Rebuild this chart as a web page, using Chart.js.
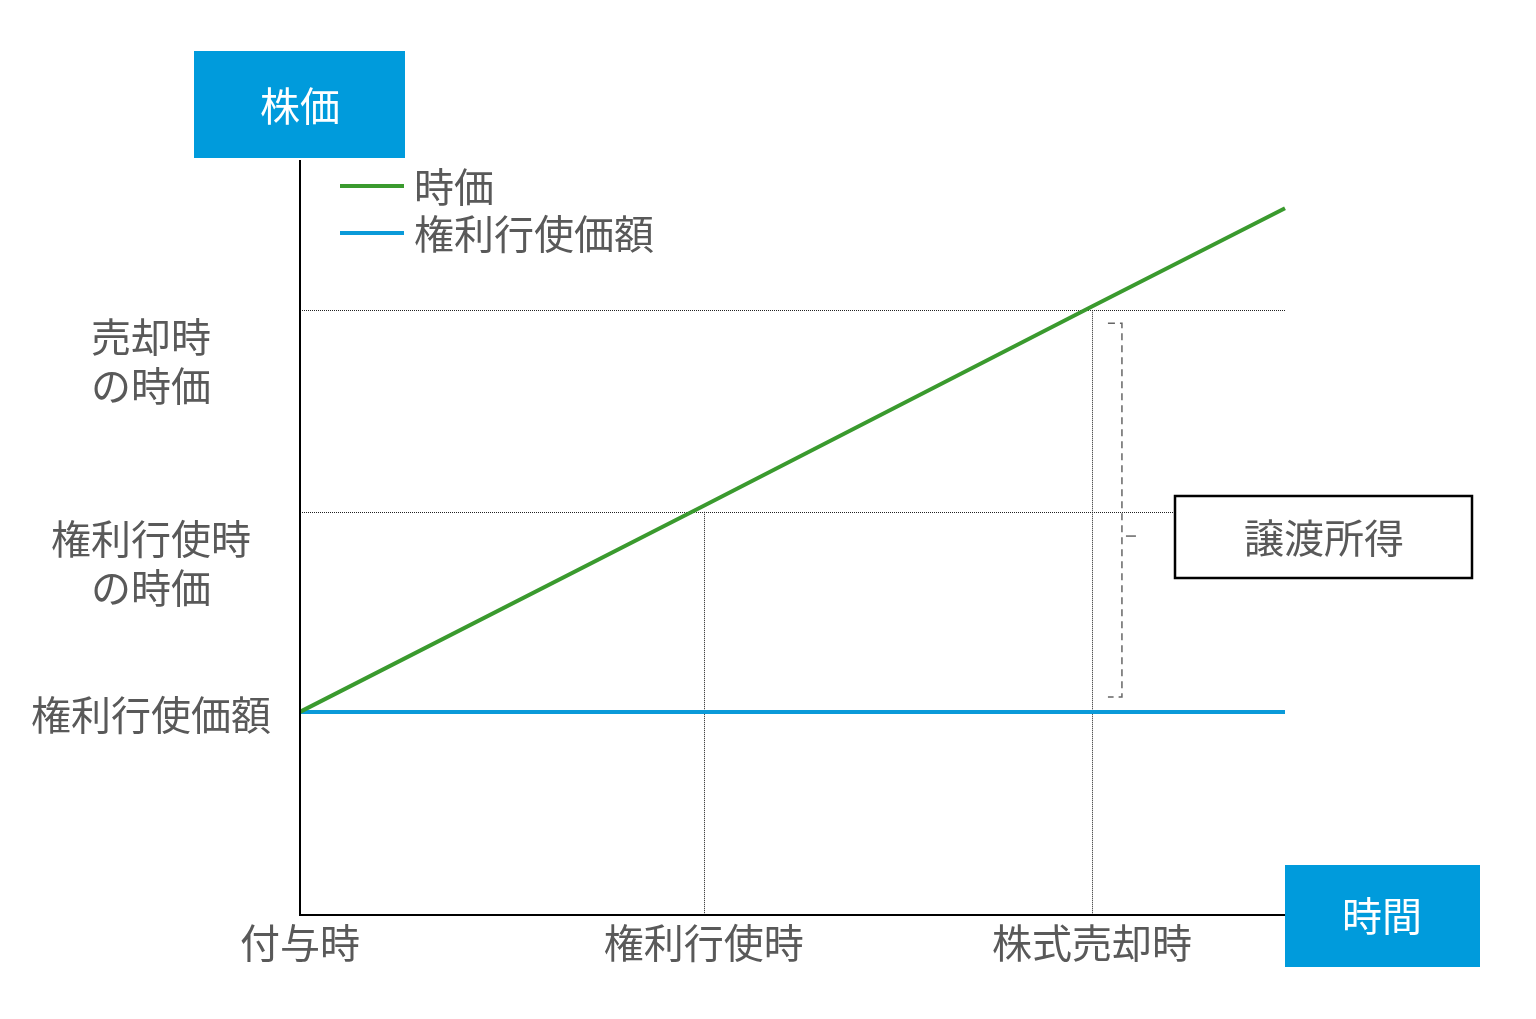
<!DOCTYPE html>
<html lang="ja">
<head>
<meta charset="utf-8">
<script src="https://cdn.jsdelivr.net/npm/chart.js@4/dist/chart.umd.min.js"></script>
<style>
  body { margin: 0; background: #fff; }
  #wrap { width: 1536px; height: 1019px; }
</style>
</head>
<body>
<div id="wrap"><canvas id="stockChart"></canvas></div>
<script>
// 時間軸の区切り
const timeLabels = ['付与時', '権利行使時', '株式売却時'];
const timePoints = [0, 41, 80.4];
// 株価の目盛り
const priceLabels = [['売却時', 'の時価'], ['権利行使時', 'の時価'], ['権利行使価額']];
const priceLevels = [80.1, 53.4, 26.9];
// 系列
const marketX = [0, 41, 80.4, 100];
const marketPrice = [26.9, 54.2, 80.6, 93.6];
const strikeX = [0, 100];
const strikePrice = [26.9, 26.9];

const FONT = '"Noto Sans CJK JP", "Noto Sans", sans-serif';
const GRAY = '#595959';
const BLUE_BOX = '#009bdc';

const overlay = {
  id: 'overlay',
  beforeDatasetsDraw(chart) {
    const { ctx, chartArea: a, scales: { x, y } } = chart;
    ctx.save();
    ctx.strokeStyle = '#222';
    ctx.lineWidth = 1;
    ctx.setLineDash([1, 1]);
    // 横の点線
    priceLevels.slice(0, 2).forEach((v, i) => {
      const py = Math.round(y.getPixelForValue(v)) + 0.5;
      ctx.beginPath();
      ctx.moveTo(a.left, py);
      ctx.lineTo(i === 0 ? a.right : 1174, py);
      ctx.stroke();
    });
    // 縦の点線
    [[timePoints[1], priceLevels[1]], [timePoints[2], priceLevels[0]]].forEach(([t, v]) => {
      const px = Math.round(x.getPixelForValue(t)) + 0.5;
      ctx.beginPath();
      ctx.moveTo(px, y.getPixelForValue(v));
      ctx.lineTo(px, a.bottom);
      ctx.stroke();
    });
    ctx.restore();
  },
  afterDatasetsDraw(chart) {
    const { ctx, chartArea: a, scales: { x, y } } = chart;
    ctx.save();

    // 軸
    ctx.strokeStyle = '#000';
    ctx.lineWidth = 2;
    ctx.setLineDash([]);
    ctx.beginPath();
    ctx.moveTo(a.left, a.top);
    ctx.lineTo(a.left, a.bottom);
    ctx.lineTo(a.right, a.bottom);
    ctx.stroke();

    // 中括弧（破線）
    const bx = x.getPixelForValue(timePoints[2]) + 30;
    const bTop = y.getPixelForValue(priceLevels[0]) + 13;
    const bBot = y.getPixelForValue(priceLevels[2]) - 15;
    const bMid = (bTop + bBot) / 2 + 26;
    ctx.strokeStyle = '#666';
    ctx.lineWidth = 1.5;
    ctx.setLineDash([7, 5]);
    ctx.beginPath();
    ctx.moveTo(bx - 14, bTop);
    ctx.lineTo(bx, bTop);
    ctx.lineTo(bx, bBot);
    ctx.lineTo(bx - 14, bBot);
    ctx.stroke();
    ctx.setLineDash([]);
    ctx.beginPath();
    ctx.moveTo(bx + 4, bMid);
    ctx.lineTo(bx + 14, bMid);
    ctx.stroke();

    // 譲渡所得の枠
    ctx.fillStyle = '#fff';
    ctx.fillRect(1175, 496, 297, 82);
    ctx.strokeStyle = '#000';
    ctx.lineWidth = 2.5;
    ctx.strokeRect(1175, 496, 297, 82);
    ctx.fillStyle = GRAY;
    ctx.font = '40px ' + FONT;
    ctx.textAlign = 'center';
    ctx.textBaseline = 'middle';
    ctx.fillText('譲渡所得', 1324, 538);

    // 軸タイトルの青い箱
    ctx.fillStyle = BLUE_BOX;
    ctx.fillRect(a.left - 106, 51, 211, 107);
    ctx.fillRect(a.right, a.bottom - 50, 195, 102);
    ctx.fillStyle = '#fff';
    ctx.fillText('株価', a.left, 106);
    ctx.fillText('時間', a.right + 97, a.bottom + 1);

    // 横軸ラベル
    ctx.fillStyle = GRAY;
    timeLabels.forEach((t, i) => {
      ctx.fillText(t, x.getPixelForValue(timePoints[i]), a.bottom + 28);
    });

    // 縦軸ラベル
    priceLabels.forEach((lines, i) => {
      const py = y.getPixelForValue(priceLevels[i]);
      const start = lines.length > 1 ? py + 27 : py + 3;
      lines.forEach((s, j) => ctx.fillText(s, 151, start + j * 49));
    });

    // 凡例
    ctx.textAlign = 'left';
    chart.data.datasets.forEach((ds, i) => {
      const ly = 186 + i * 47;
      ctx.strokeStyle = ds.borderColor;
      ctx.lineWidth = 4;
      ctx.beginPath();
      ctx.moveTo(340, ly);
      ctx.lineTo(404, ly);
      ctx.stroke();
      ctx.fillStyle = GRAY;
      ctx.fillText(ds.label, 414, ly + 1);
    });
    ctx.restore();
  }
};

const chart = new Chart(document.getElementById('stockChart'), {
  type: 'line',
  data: {
    datasets: [{
      label: '時価',
      data: marketX.map((t, i) => ({ x: t, y: marketPrice[i] })),
      borderColor: '#3a9a2e',
      borderWidth: 4,
      pointRadius: 0,
      clip: false
    }, {
      label: '権利行使価額',
      data: strikeX.map((t, i) => ({ x: t, y: strikePrice[i] })),
      borderColor: '#0a9ad9',
      borderWidth: 4,
      pointRadius: 0,
      clip: false
    }]
  },
  options: {
    responsive: true,
    maintainAspectRatio: false,
    animation: false,
    layout: { padding: { left: 300, right: 251, top: 160, bottom: 104 } },
    plugins: { legend: { display: false }, tooltip: { enabled: false } },
    scales: {
      x: { type: 'linear', min: 0, max: 100, display: false },
      y: { min: 0, max: 100, display: false }
    }
  },
  plugins: [overlay]
});
</script>
</body>
</html>
